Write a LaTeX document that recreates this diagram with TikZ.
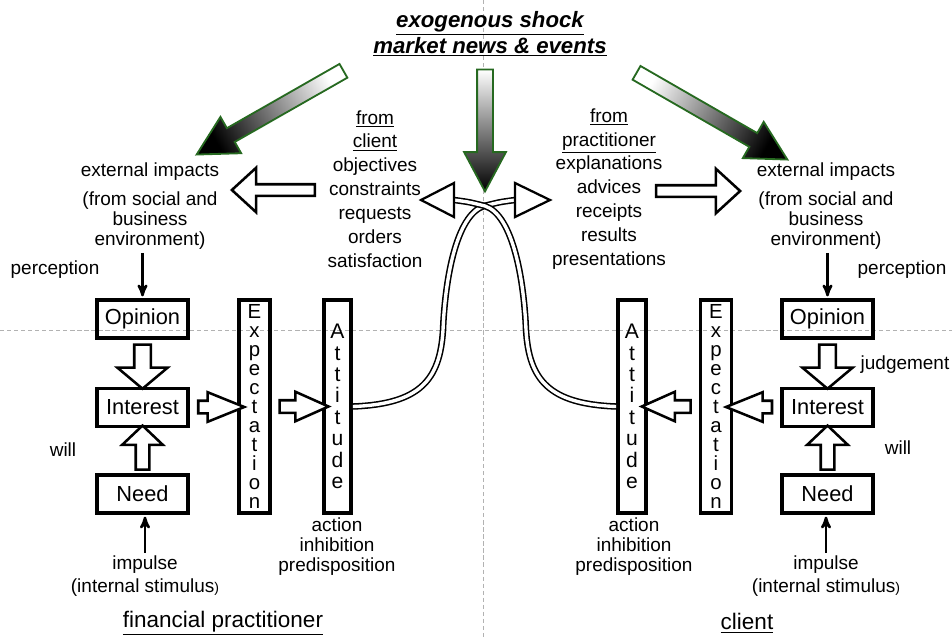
\documentclass[tikz,border=0pt]{standalone}
\usepackage{fontspec}
\setmainfont{Liberation Sans}
\usetikzlibrary{positioning,shapes.arrows,arrows,calc}

\definecolor{shockgreen}{RGB}{38,105,32}
\newcommand{\pxu}{0.025cm}

\begin{document}
\begin{tikzpicture}[x=\pxu,y=-\pxu,>=stealth',
	txt/.style={font=\fontsize{13.5}{14.2}\selectfont,align=center,inner sep=0pt},
	stack/.style={txt,font=\fontsize{13.5}{17}\selectfont},
	who/.style={font=\fontsize{16}{16}\selectfont,inner sep=0pt},
	box/.style={draw,line width=2.6pt,minimum width=91*\pxu,minimum height=38*\pxu,
		inner sep=0pt,font=\fontsize{15.5}{16}\selectfont},
	tallbox/.style={draw,line width=2.6pt,minimum height=213*\pxu,inner sep=0pt,align=center},
	harrow/.style 2 args={single arrow,draw,fill=white,line width=1.8pt,inner xsep=0pt,
		inner ysep=#1*\pxu,single arrow head extend=#2*\pxu},
	shock/.style={single arrow,draw=shockgreen,line width=1.3pt,top color=white,bottom color=black,
		inner xsep=0pt,inner ysep=7*\pxu,single arrow head extend=13*\pxu,single arrow tip angle=56},
	link/.style={double,line width=1.1pt,double distance=2.4pt},
	tri/.style={draw,fill=white,line width=1.6pt},
	guide/.style={gray!60,dash pattern=on 3pt off 2pt,line width=0.4pt}]

	\useasboundingbox (0,0) rectangle (952,638);
	\draw[guide] (483,0) -- (483,638);
	\draw[guide] (0,330) -- (952,330);

	% shock from the market
	\node[txt,font=\fontsize{15.8}{18.5}\selectfont\bfseries\itshape] (shock) at (490,34)
		{\underline{exogenous shock}\\\underline{market news \& events}};
	\node[shock,shading angle=0,minimum height=122*\pxu,rotate=-90] (shC) at (485,123) {};
	\node[shock,shading angle=299.7,minimum height=169*\pxu,rotate=209.7] (shL) at (276.5,109) {};
	\node[shock,shading angle=60.1,minimum height=174*\pxu,rotate=-29.9] (shR) at (705.5,112.5) {};

	% messages between the two sides
	\node[stack] (fromC) at (375,189)
		{\underline{from}\\\underline{client}\\objectives\\constraints\\requests\\orders\\satisfaction};
	\node[stack] (fromP) at (609,189)
		{\underline{from}\\\underline{practitioner}\\explanations\\advices\\receipts\\results\\presentations};
	\node[harrow={4.5}{16.5},single arrow tip angle=85,minimum height=83*\pxu,rotate=180] (msgL) at (276.5,190) {};
	\node[harrow={4.5}{16.5},single arrow tip angle=85,minimum height=84*\pxu] (msgR) at (695,191) {};

	% financial practitioner
	\node[txt] (extL) at (150,206) {external impacts\\[7pt](from social and\\business\\environment)};
	\node[txt] (percL) at (55,270) {perception};
	\node[box] (opL) at (142.5,319) {Opinion};
	\node[box] (inL) at (142.5,407.5) {Interest};
	\node[box] (neL) at (142.5,494) {Need};
	\node[txt] (willL) at (63,450) {will};
	\node[txt,font=\fontsize{13.5}{16.4}\selectfont] (impL) at (145,576)
		{impulse\\(internal stimulus{\fontsize{10}{10}\selectfont)}};
	\node[tallbox,minimum width=31*\pxu,font=\fontsize{14.5}{13.5}\selectfont] (exL) at (254.5,406.5)
		{E\\x\\p\\e\\c\\t\\a\\t\\i\\o\\n};
	\node[tallbox,minimum width=27*\pxu,font=\fontsize{15}{15.2}\selectfont] (atL) at (337.5,406.5)
		{A\\t\\t\\i\\t\\u\\d\\e};
	\node[txt] (actL) at (337,547) {action\\inhibition\\predisposition};
	\node[who] (finL) at (223,623) {\underline{financial practitioner}};

	\node[harrow={7}{17},single arrow tip angle=100,minimum height=44*\pxu,rotate=-90]
		at ($(opL.south)!0.5!(inL.north)$) {};
	\node[harrow={5.5}{13.5},single arrow tip angle=93,minimum height=44*\pxu,rotate=90]
		at ($(neL.north)!0.5!(inL.south)$) {};
	\node[harrow={5}{8.5},single arrow tip angle=44,minimum height=46*\pxu]
		at ($(inL.east)!0.5!(exL.west)$) {};
	\node[harrow={5}{8.5},single arrow tip angle=48,minimum height=49*\pxu]
		at ($(exL.east)!0.5!(atL.west)$) {};
	\draw[->,line width=1.8pt,shorten <=2pt,shorten >=1.3pt] (extL.south -| opL.north) -- (opL.north);
	\draw[->,line width=1.8pt,shorten <=2pt,shorten >=1.3pt] (impL.north) -- (impL.north |- neL.south);

	% client
	\node[txt] (extR) at (826,206) {external impacts\\[7pt](from social and\\business\\environment)};
	\node[txt] (percR) at (902,270) {perception};
	\node[box] (opR) at (827.5,319) {Opinion};
	\node[box] (inR) at (827.5,407.5) {Interest};
	\node[box] (neR) at (827.5,494) {Need};
	\node[txt] (judR) at (905,365) {judgement};
	\node[txt] (willR) at (898,448) {will};
	\node[txt,font=\fontsize{13.5}{16.4}\selectfont] (impR) at (826,576)
		{impulse\\(internal stimulus{\fontsize{10}{10}\selectfont)}};
	\node[tallbox,minimum width=31*\pxu,font=\fontsize{14.5}{13.5}\selectfont] (exR) at (716,406.5)
		{E\\x\\p\\e\\c\\t\\a\\t\\i\\o\\n};
	\node[tallbox,minimum width=28*\pxu,font=\fontsize{15}{15.2}\selectfont] (atR) at (632,406.5)
		{A\\t\\t\\i\\t\\u\\d\\e};
	\node[txt] (actR) at (634,547) {action\\inhibition\\predisposition};
	\node[who] (cliR) at (747,623) {\underline{client}};

	\node[harrow={7}{17},single arrow tip angle=100,minimum height=44*\pxu,rotate=-90]
		at ($(opR.south)!0.5!(inR.north)$) {};
	\node[harrow={5.5}{13.5},single arrow tip angle=93,minimum height=44*\pxu,rotate=90]
		at ($(neR.north)!0.5!(inR.south)$) {};
	\node[harrow={5}{8.5},single arrow tip angle=44,minimum height=46*\pxu,rotate=180]
		at ($(inR.west)!0.5!(exR.east)$) {};
	\node[harrow={5}{8.5},single arrow tip angle=48,minimum height=49*\pxu,rotate=180]
		at ($(exR.west)!0.5!(atR.east)$) {};
	\draw[->,line width=1.8pt,shorten <=2pt,shorten >=1.3pt] (extR.south -| opR.north) -- (opR.north);
	\draw[->,line width=1.8pt,shorten <=2pt,shorten >=1.3pt] (impR.north) -- (impR.north |- neR.south);

	% attitudes reaching the other side
	\coordinate (hR) at (515,200);
	\coordinate (hL) at (454,200);
	\draw[link] (atL.east) .. controls (420,404) and (440,380) .. (443,330)
		.. controls (445,280) and (456,215) .. (484,206) .. controls (500,202) .. (hR);
	\draw[link] (atR.west) .. controls (549,404) and (529,380) .. (526,330)
		.. controls (524,280) and (513,215) .. (485,206) .. controls (469,202) .. (hL);
	\draw[tri] (hR) -- ++(0,-17) -- ++(35,17) -- ++(-35,17) -- cycle;
	\draw[tri] (hL) -- ++(0,-17) -- ++(-33,17) -- ++(33,17) -- cycle;
\end{tikzpicture}
\end{document}
